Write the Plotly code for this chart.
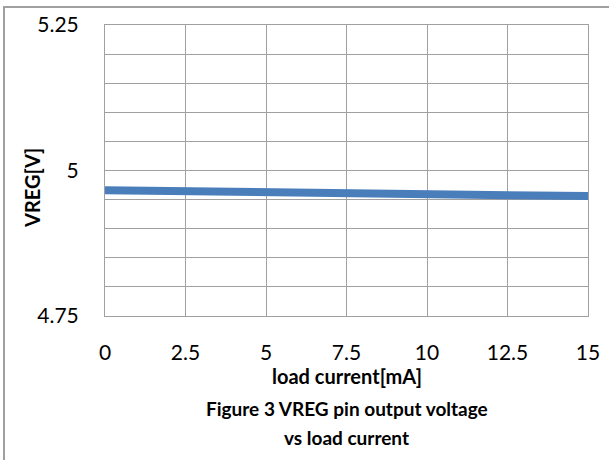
import plotly.graph_objects as go

load_current_mA = [0, 2.5, 5, 7.5, 10, 12.5, 15]
vreg_V = [4.966, 4.964, 4.962, 4.960, 4.959, 4.957, 4.956]

x_ticks = [0, 2.5, 5, 7.5, 10, 12.5, 15]
x_ticktext = ["0", "2.5", "5", "7.5", "10", "12.5", "15"]
y_ticks = [4.75, 5.0, 5.25]
y_ticktext = ["4.75", "5", "5.25"]

FONT = "Lato, Open Sans, sans-serif"
W, H = 609, 460
L, R, T, B = 105, 21, 25, 144
pw, ph = W - L - R, H - T - B

def py(ypix):
    return (H - B - ypix) / ph

def px(xpix):
    return (xpix - L) / pw

fig = go.Figure()
fig.add_trace(go.Scatter(
    x=load_current_mA, y=vreg_V, mode="lines",
    line=dict(color="#4A7EBB", width=8), showlegend=False, hoverinfo="x+y"))

fig.update_layout(
    width=W, height=H,
    margin=dict(l=L, r=R, t=T, b=B, autoexpand=False),
    paper_bgcolor="white", plot_bgcolor="white",
    font=dict(family=FONT, color="black"),
    xaxis=dict(range=[0, 15], tickvals=x_ticks, ticktext=x_ticktext,
               showgrid=True, gridcolor="#A0A0A0", gridwidth=1,
               showline=True, linecolor="#A0A0A0", linewidth=1, mirror=True,
               ticks="", tickfont=dict(size=21, family=FONT), ticklabelstandoff=18,
               zeroline=False, automargin=False),
    yaxis=dict(range=[4.75, 5.25], tickvals=y_ticks, ticktext=y_ticktext,
               showgrid=True, gridcolor="#A0A0A0", gridwidth=1,
               minor=dict(dtick=0.05, tick0=4.75, showgrid=True, gridcolor="#A0A0A0", gridwidth=1),
               showline=True, linecolor="#A0A0A0", linewidth=1, mirror=True,
               ticks="", tickfont=dict(size=21, family=FONT), ticklabelstandoff=21,
               zeroline=False, automargin=False),
)

fig.add_annotation(xref="paper", yref="paper", x=0.5, y=py(376),
                   text="<b>load current[mA]</b>", showarrow=False,
                   font=dict(size=20, family=FONT), xanchor="center", yanchor="middle")
fig.add_annotation(xref="paper", yref="paper", x=px(32), y=py(188),
                   text="<b>VREG[V]</b>", showarrow=False, textangle=-90,
                   font=dict(size=20, family=FONT), xanchor="center", yanchor="middle")
fig.add_annotation(xref="paper", yref="paper", x=0.5, y=py(408),
                   text="<b>Figure 3 VREG pin output voltage</b>", showarrow=False,
                   font=dict(size=19, family=FONT), xanchor="center", yanchor="middle")
fig.add_annotation(xref="paper", yref="paper", x=0.5, y=py(437),
                   text="<b>vs load current</b>", showarrow=False,
                   font=dict(size=19, family=FONT), xanchor="center", yanchor="middle")

# outer chart border (cropped at right/bottom in the reference)
fig.add_shape(type="rect", xref="paper", yref="paper",
              x0=px(4), x1=px(W + 20), y0=py(H + 20), y1=py(7),
              line=dict(color="#A0A0A0", width=2), fillcolor="rgba(0,0,0,0)",
              layer="above")

fig.write_html("out.html", config={"displayModeBar": False},
               post_script="document.body.style.margin='0';document.body.style.overflow='hidden';")
